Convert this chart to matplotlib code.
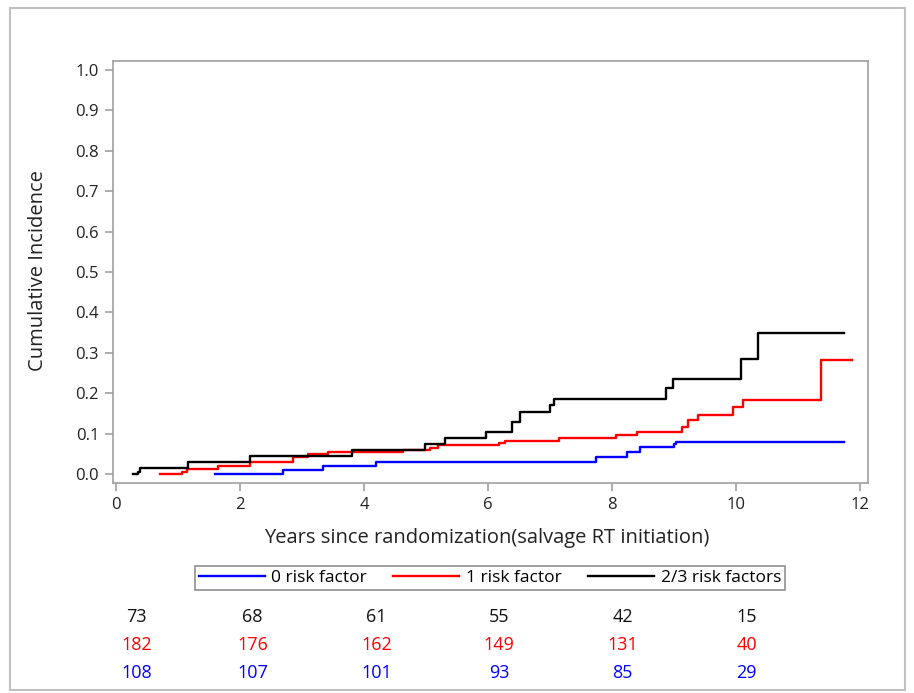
import matplotlib
matplotlib.use("Agg")
import matplotlib.pyplot as plt
from matplotlib.patches import Rectangle

plt.rcParams['font.family'] = ['Open Sans', 'DejaVu Sans']

# step curves (years, cumulative incidence)
t_black = [0.27, 0.35, 0.39, 1.16, 2.16, 3.80, 4.98, 5.31, 5.97, 6.38, 6.52, 7.00, 7.07,
           8.88, 8.98, 10.08, 10.36, 11.74]
v_black = [0.0, 0.005, 0.016, 0.030, 0.045, 0.060, 0.075, 0.090, 0.105, 0.130, 0.154, 0.171,
           0.187, 0.212, 0.235, 0.284, 0.348, 0.348]

t_red = [0.71, 1.06, 1.14, 1.65, 2.16, 2.86, 3.10, 3.42, 4.63, 5.06, 5.20, 6.17, 6.27, 7.15,
         8.07, 8.41, 9.13, 9.23, 9.39, 9.96, 10.12, 11.38, 11.88]
v_red = [0.0, 0.006, 0.012, 0.021, 0.031, 0.043, 0.049, 0.054, 0.059, 0.065, 0.071, 0.076,
         0.083, 0.090, 0.096, 0.103, 0.117, 0.134, 0.146, 0.165, 0.183, 0.283, 0.283]

t_blue = [1.60, 2.70, 3.34, 4.20, 7.74, 8.24, 8.45, 9.00, 9.04, 11.74]
v_blue = [0.0, 0.011, 0.021, 0.031, 0.043, 0.054, 0.067, 0.075, 0.080, 0.080]

labels = ['0 risk factor', '1 risk factor', '2/3 risk factors']

# number at risk table
risk_black = [73, 68, 61, 55, 42, 15]
risk_red = [182, 176, 162, 149, 131, 40]
risk_blue = [108, 107, 101, 93, 85, 29]
risk_pos = [0.33, 2.20, 4.20, 6.18, 8.17, 10.17]

grey = '#a0a0a0'

fig = plt.figure(figsize=(9.14, 6.93), dpi=100)
fig.patches.append(Rectangle((0.011, 0.004), 0.979, 0.984, transform=fig.transFigure,
                             fill=False, edgecolor='#c0c0c0', linewidth=1.5))

ax = fig.add_axes([0.1236, 0.303, 0.826, 0.609])
lb, = ax.plot(t_blue, v_blue, drawstyle='steps-post', color='#0000ff', lw=1.7)
lr, = ax.plot(t_red, v_red, drawstyle='steps-post', color='#ff0000', lw=1.7)
lk, = ax.plot(t_black, v_black, drawstyle='steps-post', color='black', lw=1.7)

ax.set_xlim(-0.05, 12.13)
ax.set_ylim(-0.022, 1.022)
ax.set_xticks([0, 2, 4, 6, 8, 10, 12])
ax.set_yticks([i / 10 for i in range(11)])
ax.set_yticklabels(['%.1f' % (i / 10) for i in range(11)])
for s in ax.spines.values():
    s.set_color(grey)
    s.set_linewidth(1.2)
ax.tick_params(direction='out', length=6, width=1.2, color=grey, labelsize=12,
               labelcolor='#222222', pad=4)

fig.text(0.042, 0.61, 'Cumulative Incidence', rotation=90, ha='center', va='center',
         fontsize=14.5, color='#222222')
fig.text(0.533, 0.224, 'Years since randomization(salvage RT initiation)', ha='center',
         va='center', fontsize=14.5, color='#222222')

leg = fig.legend([lb, lr, lk], labels, loc='center', bbox_to_anchor=(0.536, 0.166),
                 ncol=3, fontsize=12.5, handlelength=3.8, columnspacing=1.5,
                 handletextpad=0.4, fancybox=False, borderpad=0.2, framealpha=1)
leg.get_frame().set_edgecolor('#909090')
leg.get_frame().set_linewidth(1.2)

rows = [(risk_black, '#111111', -0.318), (risk_red, '#ff0000', -0.384),
        (risk_blue, '#0000ff', -0.450)]
for vals, col, yy in rows:
    for x, n in zip(risk_pos, vals):
        ax.text(x, yy, str(n), transform=ax.get_xaxis_transform(), ha='center', va='center',
                fontsize=13, color=col, clip_on=False)

fig.savefig('out.png', dpi=100)
